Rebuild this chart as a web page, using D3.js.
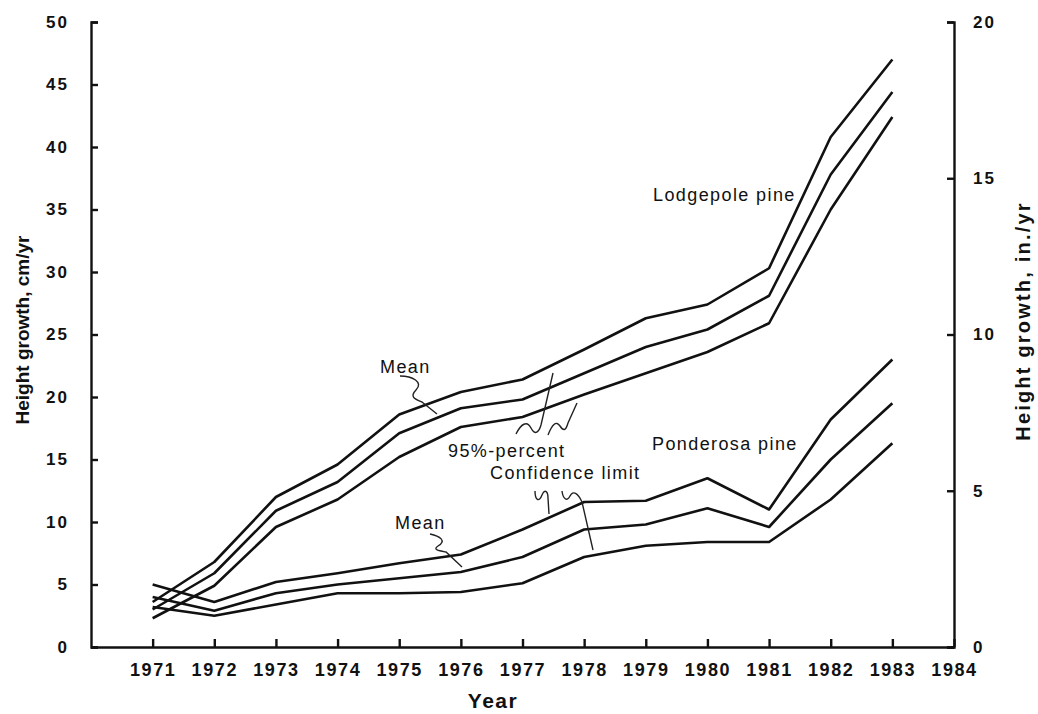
<!DOCTYPE html>
<html>
<head>
<meta charset="utf-8">
<script src="https://cdn.jsdelivr.net/npm/d3@7"></script>
<style>
  body { margin: 0; background: #fff; }
  svg { font-family: "Liberation Sans", Arial, sans-serif; }
  .axis path, .axis line { stroke: #111; stroke-width: 2.4px; }
  .axis text { font-size: 17px; font-weight: bold; fill: #111; letter-spacing: 2px; }
  .xaxis text { font-size: 18px; letter-spacing: 1.6px; }
  .series { fill: none; stroke: #111; stroke-width: 2.6px; stroke-linejoin: round; }
  .note { font-size: 18px; fill: #111; letter-spacing: 1.4px; }
  .leader { fill: none; stroke: #222; stroke-width: 1.4px; }
  .title { font-weight: bold; fill: #111; }
</style>
</head>
<body>
<div id="chart"></div>
<script>
// years and growth values (cm/yr)
var years = [1971, 1972, 1973, 1974, 1975, 1976, 1977, 1978, 1979, 1980, 1981, 1982, 1983];

var lodgepoleUpper = [3.6, 6.8, 12.0, 14.6, 18.6, 20.4, 21.4, 23.8, 26.3, 27.4, 30.3, 40.8, 47.0];
var lodgepoleMean  = [3.0, 5.9, 10.9, 13.2, 17.1, 19.1, 19.8, 21.9, 24.0, 25.4, 28.1, 37.8, 44.4];
var lodgepoleLower = [2.3, 4.9, 9.6, 11.8, 15.2, 17.6, 18.4, 20.2, 21.9, 23.6, 25.9, 35.0, 42.4];

var ponderosaUpper = [5.0, 3.6, 5.2, 5.9, 6.7, 7.4, 9.4, 11.6, 11.7, 13.5, 11.0, 18.2, 23.0];
var ponderosaMean  = [4.0, 2.9, 4.3, 5.0, 5.5, 6.0, 7.2, 9.4, 9.8, 11.1, 9.6, 15.0, 19.5];
var ponderosaLower = [3.2, 2.5, 3.4, 4.3, 4.3, 4.4, 5.1, 7.2, 8.1, 8.4, 8.4, 11.8, 16.3];

var xTicks = [1971, 1972, 1973, 1974, 1975, 1976, 1977, 1978, 1979, 1980, 1981, 1982, 1983, 1984];
var cmTicks = [0, 5, 10, 15, 20, 25, 30, 35, 40, 45, 50];
var inTicks = [0, 5, 10, 15, 20];

var width = 1038, height = 714;
var margin = { top: 22, right: 84, bottom: 67, left: 91 };

var svg = d3.select("#chart").append("svg")
    .attr("width", width)
    .attr("height", height);

var x = d3.scaleLinear()
    .domain([1970, 1984])
    .range([margin.left, width - margin.right]);

var y = d3.scaleLinear()
    .domain([0, 50])
    .range([height - margin.bottom, margin.top]);

var yIn = d3.scaleLinear()
    .domain([0, 20])
    .range([height - margin.bottom, margin.top]);

// axes, ticks pointing inward
svg.append("g")
    .attr("class", "axis")
    .attr("transform", "translate(" + margin.left + ",0)")
    .call(d3.axisLeft(y).tickValues(cmTicks).tickSize(-7).tickPadding(22));

svg.append("g")
    .attr("class", "axis")
    .attr("transform", "translate(" + (width - margin.right) + ",0)")
    .call(d3.axisRight(yIn).tickValues(inTicks).tickSize(-7).tickPadding(19));

svg.append("g")
    .attr("class", "axis xaxis")
    .attr("transform", "translate(0," + (height - margin.bottom) + ")")
    .call(d3.axisBottom(x).tickValues(xTicks).tickFormat(d3.format("d"))
        .tickSize(-8).tickSizeOuter(0).tickPadding(16));

// axis titles
svg.append("text")
    .attr("class", "title")
    .attr("transform", "translate(29,330) rotate(-90)")
    .attr("text-anchor", "middle")
    .style("font-size", "19px")
    .text("Height growth, cm/yr");

svg.append("text")
    .attr("class", "title")
    .attr("transform", "translate(1030,321) rotate(-90)")
    .attr("text-anchor", "middle")
    .style("font-size", "20px")
    .style("letter-spacing", "2.2px")
    .text("Height growth, in./yr");

svg.append("text")
    .attr("class", "title")
    .attr("x", 493)
    .attr("y", 708)
    .attr("text-anchor", "middle")
    .style("font-size", "21px")
    .style("letter-spacing", "1.5px")
    .text("Year");

// the six series
var line = d3.line()
    .x(function (d, i) { return x(years[i]); })
    .y(function (d) { return y(d); });

[lodgepoleUpper, lodgepoleMean, lodgepoleLower,
 ponderosaUpper, ponderosaMean, ponderosaLower].forEach(function (s) {
    svg.append("path")
        .attr("class", "series")
        .attr("d", line(s));
});

// hand drawn labels and their wiggly leaders (pixel positions)
var notes = [
    { text: "Mean", x: 380, y: 373 },
    { text: "95%-percent", x: 448, y: 457 },
    { text: "Confidence limit", x: 490, y: 479 },
    { text: "Mean", x: 395, y: 529 },
    { text: "Lodgepole pine", x: 653, y: 201 },
    { text: "Ponderosa pine", x: 652, y: 450 }
];

svg.selectAll(".note")
    .data(notes)
    .enter().append("text")
    .attr("class", "note")
    .attr("x", function (d) { return d.x; })
    .attr("y", function (d) { return d.y; })
    .text(function (d) { return d.text; });

var leaders = [
    "M400,376 C412,376 424,382 416,390 C408,398 418,400 422,402 L437,414",
    "M516,434 C521,424 527,420 531,428 C535,436 539,432 541,425 L553,373",
    "M548,435 C552,425 556,420 560,426 C564,432 566,430 568,423 L577,403",
    "M535,491 C535,500 539,503 542,495 C545,488 548,492 548,498 L549,514",
    "M562,491 C563,499 567,502 570,496 C573,490 578,493 582,502 L593,550",
    "M430,534 C440,536 447,541 438,546 C432,550 440,551 446,552 L462,567"
];

svg.selectAll(".leader")
    .data(leaders)
    .enter().append("path")
    .attr("class", "leader")
    .attr("d", function (d) { return d; });
</script>
</body>
</html>
